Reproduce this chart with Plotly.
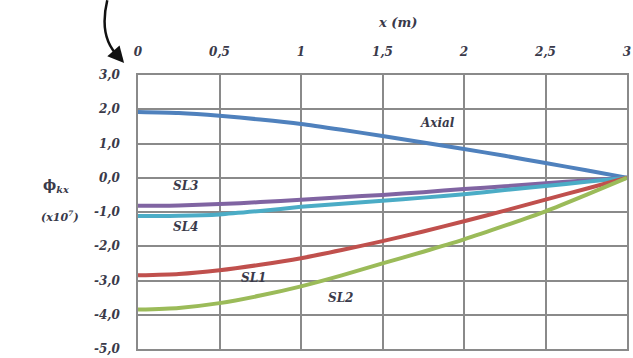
import plotly.graph_objects as go

# Position along the member (m)
x_m = [0, 0.25, 0.5, 0.75, 1, 1.25, 1.5, 1.75, 2, 2.25, 2.5, 2.75, 3]

# Modal shape components Φkx (x10^7) for each load case
axial = [1.92, 1.89, 1.81, 1.70, 1.57, 1.40, 1.22, 1.03, 0.84, 0.64, 0.43, 0.22, 0.0]
sl1 = [-2.85, -2.81, -2.70, -2.54, -2.35, -2.11, -1.85, -1.57, -1.27, -0.96, -0.64, -0.32, 0.0]
sl2 = [-3.85, -3.80, -3.66, -3.44, -3.17, -2.85, -2.50, -2.16, -1.80, -1.40, -0.98, -0.50, 0.0]
sl3 = [-0.82, -0.81, -0.77, -0.71, -0.64, -0.57, -0.50, -0.42, -0.33, -0.25, -0.16, -0.08, 0.0]
sl4 = [-1.12, -1.11, -1.07, -0.97, -0.85, -0.76, -0.67, -0.58, -0.48, -0.36, -0.24, -0.12, 0.0]

x_ticks = [0, 0.5, 1, 1.5, 2, 2.5, 3]
x_tick_text = ["0", "0,5", "1", "1,5", "2", "2,5", "3"]
y_ticks = [3, 2, 1, 0, -1, -2, -3, -4, -5]
y_tick_text = ["3,0", "2,0", "1,0", "0,0", "-1,0", "-2,0", "-3,0", "-4,0", "-5,0"]

series = [
    ("Axial", axial, "#4F81BD"),
    ("SL3", sl3, "#8064A2"),
    ("SL4", sl4, "#4BACC6"),
    ("SL1", sl1, "#C0504D"),
    ("SL2", sl2, "#9BBB59"),
]

W, H = 633, 358
L, R, T, B = 138, 2, 75, 8
PW, PH = W - L - R, H - T - B

FONT = "DejaVu Serif, serif"
TXT = "#3a3a4a"


def styled(s):
    return f"<b><i>{s}</i></b>"


fig = go.Figure()
for name, vals, col in series:
    fig.add_trace(go.Scatter(
        x=x_m, y=vals, mode="lines", name=name,
        line=dict(color=col, width=4, shape="spline", smoothing=0.6),
        showlegend=False,
    ))

# Curve labels placed next to their lines
labels = [("Axial", 1.84, 1.6), ("SL3", 0.29, -0.23), ("SL4", 0.29, -1.45),
          ("SL1", 0.71, -2.92), ("SL2", 1.24, -3.5)]
for text, lx, ly in labels:
    fig.add_annotation(x=lx, y=ly, xref="x", yref="y", text=styled(text),
                       showarrow=False, font=dict(family=FONT, size=12, color=TXT))


def paper(px, py):
    return (px - L) / PW, (H - B - py) / PH


# Axis titles
tx, ty = paper(400, 22)
fig.add_annotation(x=tx, y=ty, xref="paper", yref="paper", text=styled("x (m)"),
                   showarrow=False, yanchor="middle",
                   font=dict(family=FONT, size=13, color=TXT))
tx, ty = paper(40, 186)
fig.add_annotation(x=tx, y=ty, xref="paper", yref="paper", text="<b>ϕ<sub><i>kx</i></sub></b>",
                   showarrow=False, yanchor="middle",
                   font=dict(family=FONT, size=14, color=TXT))
tx, ty = paper(38, 217)
fig.add_annotation(x=tx, y=ty, xref="paper", yref="paper", text="<b><i>(x10<sup>7</sup>)</i></b>",
                   showarrow=False, yanchor="middle",
                   font=dict(family=FONT, size=11, color=TXT))

# Curved pointer towards the origin
p0 = paper(107, 0)
p1 = paper(98, 38)
p2 = paper(119, 57)
fig.add_shape(type="path", xref="paper", yref="paper",
              path=f"M {p0[0]} {p0[1]} Q {p1[0]} {p1[1]} {p2[0]} {p2[1]}",
              line=dict(color="#111111", width=2.5))
tip = paper(124, 63)
fig.add_annotation(x=tip[0], y=tip[1], xref="paper", yref="paper", text="",
                   showarrow=True, arrowhead=2, arrowsize=1.3, arrowwidth=2.5,
                   arrowcolor="#111111", ax=-7, ay=-8)

fig.update_xaxes(
    range=[0, 3], side="top", tickvals=x_ticks, ticktext=[styled(t) for t in x_tick_text],
    showgrid=True, gridcolor="#8a8a8a", gridwidth=1.5,
    showline=True, linecolor="#8a8a8a", linewidth=1.5, mirror=True,
    zeroline=False, ticks="", ticklabelstandoff=12, ticklabeloverflow="allow",
    tickfont=dict(family=FONT, size=12, color=TXT),
)
fig.update_yaxes(
    range=[-5, 3], tickvals=y_ticks, ticktext=[styled(t) for t in y_tick_text],
    showgrid=True, gridcolor="#8a8a8a", gridwidth=1.5,
    showline=True, linecolor="#8a8a8a", linewidth=1.5, mirror=True,
    zeroline=False, ticks="", ticklabelstandoff=14, ticklabeloverflow="allow",
    tickfont=dict(family=FONT, size=12, color=TXT),
)
fig.update_layout(
    width=W, height=H, margin=dict(l=L, r=R, t=T, b=B),
    paper_bgcolor="white", plot_bgcolor="white",
)

fig.write_html("out.html")
